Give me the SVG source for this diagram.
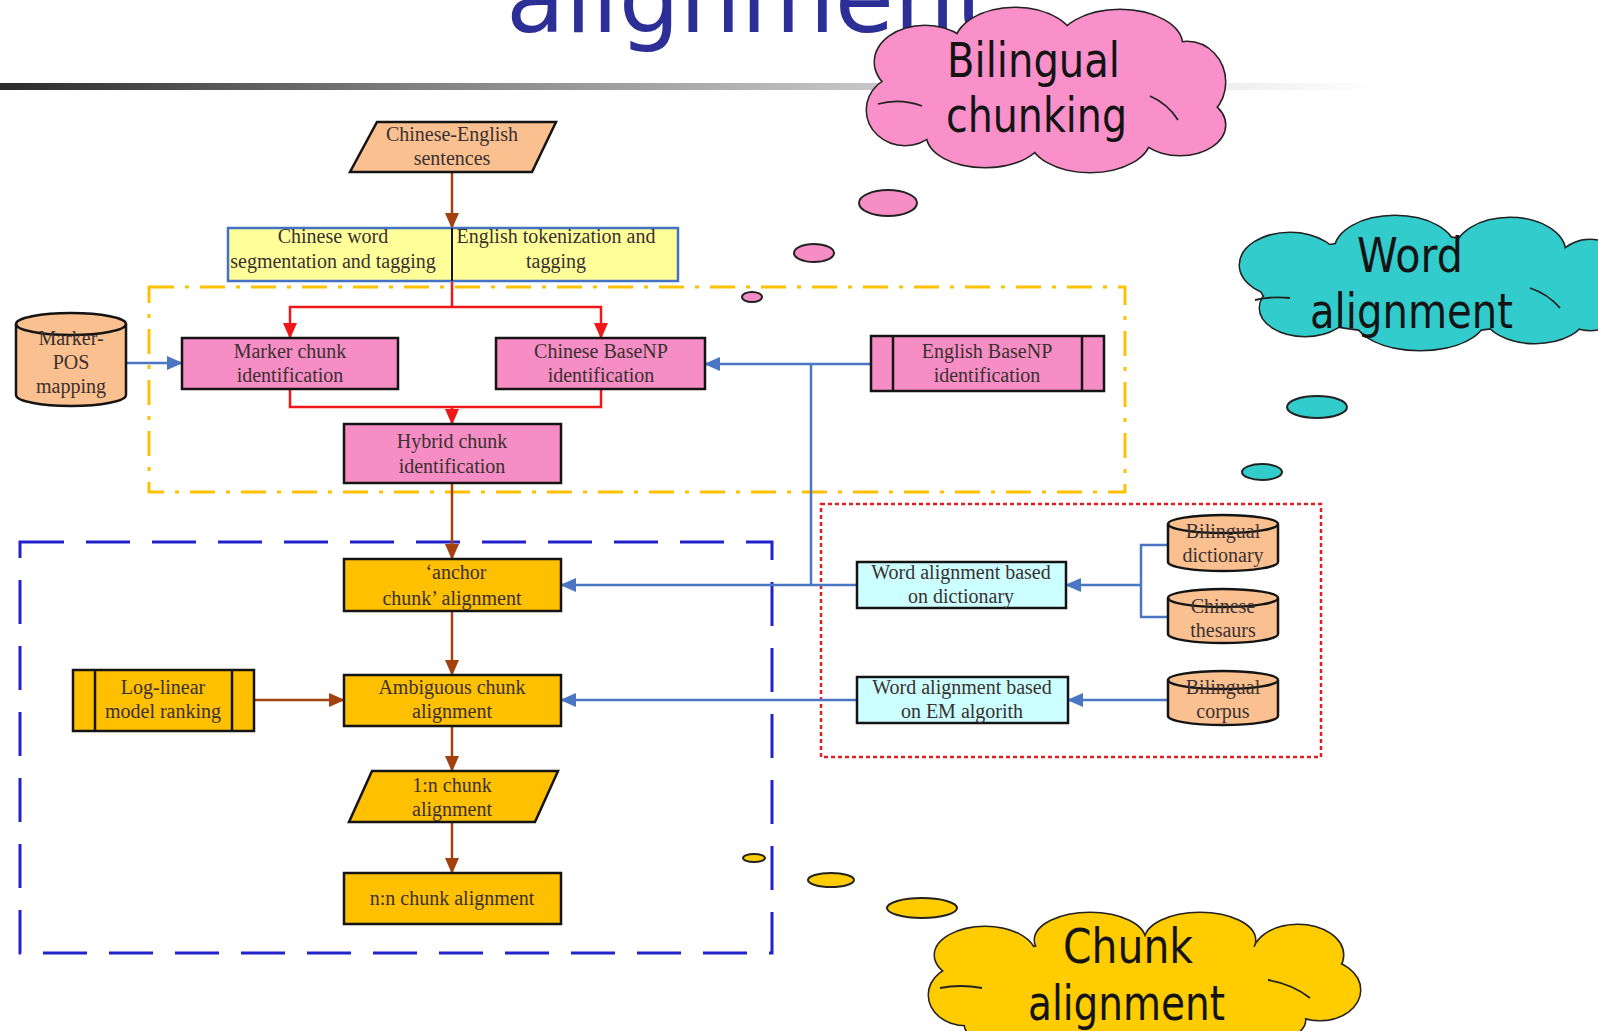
<svg xmlns="http://www.w3.org/2000/svg" width="1598" height="1031" viewBox="0 0 1598 1031">
<style>
.t{font-family:"Liberation Serif","Times New Roman",serif;font-size:20px;fill:#3a3030;text-anchor:middle}
.ct{font-family:"DejaVu Sans","Liberation Sans",sans-serif;font-size:48px;fill:#141414}
.box{stroke:#141414;stroke-width:2.5}
.peach{fill:#FAC090}
.pink{fill:#F68DC5}
.gold{fill:#FFC000}
.cyan{fill:#CCFFFF}
.brown{fill:none;stroke:#A3420F;stroke-width:2.5}
.red{fill:none;stroke:#EE1818;stroke-width:2.5}
.blue{fill:none;stroke:#4A76C4;stroke-width:2.5}
.bubble{stroke:#222;stroke-width:2}
.crease{fill:none;stroke:#222;stroke-width:1.8}
</style>
<defs>
<linearGradient id="barGrad" x1="0" y1="0" x2="1" y2="0">
<stop offset="0" stop-color="#2a2a2a"/>
<stop offset="0.3" stop-color="#808080"/>
<stop offset="0.62" stop-color="#c4c4c4"/>
<stop offset="1" stop-color="#ffffff"/>
</linearGradient>
<marker id="arrBrown" viewBox="0 0 16 14" refX="15" refY="7" markerWidth="16" markerHeight="14" markerUnits="userSpaceOnUse" orient="auto"><path d="M0,0 L16,7 L0,14 z" fill="#A3420F"/></marker>
<marker id="arrRed" viewBox="0 0 16 14" refX="15" refY="7" markerWidth="16" markerHeight="14" markerUnits="userSpaceOnUse" orient="auto"><path d="M0,0 L16,7 L0,14 z" fill="#EE1818"/></marker>
<marker id="arrBlue" viewBox="0 0 16 14" refX="15" refY="7" markerWidth="16" markerHeight="14" markerUnits="userSpaceOnUse" orient="auto"><path d="M0,0 L16,7 L0,14 z" fill="#4A76C4"/></marker>
<g id="pinkShape">
<ellipse cx="925" cy="62" rx="50" ry="36"/><ellipse cx="1015" cy="45" rx="60" ry="37"/><ellipse cx="1120" cy="45" rx="62" ry="35"/>
<ellipse cx="1187" cy="82" rx="38" ry="40"/><ellipse cx="1180" cy="125" rx="45" ry="30"/><ellipse cx="1090" cy="138" rx="60" ry="34"/>
<ellipse cx="985" cy="135" rx="58" ry="32"/><ellipse cx="905" cy="110" rx="38" ry="35"/>
<ellipse cx="1045" cy="92" rx="150" ry="55"/>
</g>
<g id="tealShape">
<ellipse cx="1290" cy="265" rx="50" ry="32"/><ellipse cx="1395" cy="250" rx="60" ry="34"/><ellipse cx="1510" cy="252" rx="55" ry="34"/>
<ellipse cx="1590" cy="285" rx="42" ry="45"/><ellipse cx="1535" cy="315" rx="50" ry="28"/><ellipse cx="1420" cy="318" rx="65" ry="32"/>
<ellipse cx="1305" cy="308" rx="45" ry="28"/>
<ellipse cx="1420" cy="285" rx="160" ry="48"/>
</g>
<g id="goldShape">
<ellipse cx="985" cy="955" rx="50" ry="28"/><ellipse cx="1090" cy="940" rx="55" ry="27"/><ellipse cx="1200" cy="940" rx="55" ry="27"/>
<ellipse cx="1298" cy="955" rx="45" ry="30"/><ellipse cx="1320" cy="990" rx="40" ry="30"/><ellipse cx="966" cy="995" rx="37" ry="30"/>
<ellipse cx="1250" cy="1020" rx="55" ry="25"/><ellipse cx="1130" cy="1028" rx="70" ry="25"/><ellipse cx="1020" cy="1025" rx="55" ry="22"/>
<ellipse cx="1145" cy="985" rx="180" ry="48"/>
</g>
</defs>

<rect x="0" y="0" width="1598" height="1031" fill="#ffffff"/>

<g id="title">
<text x="506" y="32" font-family="DejaVu Sans, Verdana, sans-serif" font-size="96" fill="#2B2F96" textLength="487" lengthAdjust="spacingAndGlyphs">alignment</text>
<rect x="0" y="83" width="1380" height="7" fill="url(#barGrad)"/>
</g>

<g id="containers">
<rect id="group-chunking" x="149" y="287" width="976" height="205" fill="none" stroke="#FFC000" stroke-width="3" stroke-dasharray="25 11 4 11"/>
<rect id="group-chunk-alignment" x="20" y="542" width="752" height="411" fill="none" stroke="#2222CC" stroke-width="3" stroke-dasharray="44 22"/>
<rect id="group-word-alignment" x="821" y="504" width="500" height="253" fill="none" stroke="#E02020" stroke-width="2.5" stroke-dasharray="4 3"/>
</g>

<g id="connectors">
<path class="brown" d="M452 172 V228" marker-end="url(#arrBrown)"/>
<path class="brown" d="M452 483 V559" marker-end="url(#arrBrown)"/>
<path class="brown" d="M452 611 V675" marker-end="url(#arrBrown)"/>
<path class="brown" d="M254 700 H344" marker-end="url(#arrBrown)"/>
<path class="brown" d="M452 726 V771" marker-end="url(#arrBrown)"/>
<path class="brown" d="M452 822 V873" marker-end="url(#arrBrown)"/>
<path class="red" d="M452 281 V307"/>
<path class="red" d="M452 307 H290 V338" marker-end="url(#arrRed)"/>
<path class="red" d="M452 307 H601 V338" marker-end="url(#arrRed)"/>
<path class="red" d="M290 389 V407 H601 V389"/>
<path class="red" d="M452 407 V424" marker-end="url(#arrRed)"/>
<path class="blue" d="M126 363 H182" marker-end="url(#arrBlue)"/>
<path class="blue" d="M871 364 H705" marker-end="url(#arrBlue)"/>
<path class="blue" d="M811 364 V585"/>
<path class="blue" d="M857 585 H561" marker-end="url(#arrBlue)"/>
<path class="blue" d="M857 700 H561" marker-end="url(#arrBlue)"/>
<path class="blue" d="M1168 545 H1141 V617 H1168"/>
<path class="blue" d="M1141 585 H1066" marker-end="url(#arrBlue)"/>
<path class="blue" d="M1168 700 H1068" marker-end="url(#arrBlue)"/>
</g>

<g id="node-sentences">
<polygon class="peach box" points="377,122 556,122 532,172 350,172"/>
<text class="t" x="452" y="141">Chinese-English</text>
<text class="t" x="452" y="165">sentences</text>
</g>

<g id="node-preprocessing">
<rect x="228" y="228" width="450" height="53" fill="#FFFF99" stroke="#4472C4" stroke-width="2.5"/>
<line x1="452" y1="228" x2="452" y2="281" stroke="#141414" stroke-width="2"/>
<text class="t" x="333" y="243">Chinese word</text>
<text class="t" x="333" y="268">segmentation and tagging</text>
<text class="t" x="556" y="243">English tokenization and</text>
<text class="t" x="556" y="268">tagging</text>
</g>

<g id="node-marker-pos">
<path class="peach box" d="M16 324 A55 11 0 0 1 126 324 V395 A55 11 0 0 1 16 395 Z"/>
<path class="box" fill="none" d="M16 324 A55 11 0 0 0 126 324"/>
<text class="t" x="71" y="345">Marker-</text>
<text class="t" x="71" y="369">POS</text>
<text class="t" x="71" y="393">mapping</text>
</g>

<g id="node-marker-chunk">
<rect class="pink box" x="182" y="338" width="216" height="51"/>
<text class="t" x="290" y="358">Marker chunk</text>
<text class="t" x="290" y="382">identification</text>
</g>

<g id="node-chinese-basenp">
<rect class="pink box" x="496" y="338" width="209" height="51"/>
<text class="t" x="601" y="358">Chinese BaseNP</text>
<text class="t" x="601" y="382">identification</text>
</g>

<g id="node-english-basenp">
<rect class="pink box" x="871" y="336" width="233" height="55"/>
<line class="box" x1="893" y1="336" x2="893" y2="391"/>
<line class="box" x1="1082" y1="336" x2="1082" y2="391"/>
<text class="t" x="987" y="358">English BaseNP</text>
<text class="t" x="987" y="382">identification</text>
</g>

<g id="node-hybrid-chunk">
<rect class="pink box" x="344" y="424" width="217" height="59"/>
<text class="t" x="452" y="448">Hybrid chunk</text>
<text class="t" x="452" y="473">identification</text>
</g>

<g id="node-anchor-chunk">
<rect class="gold box" x="344" y="559" width="217" height="52"/>
<text class="t" x="456" y="579">‘anchor</text>
<text class="t" x="452" y="605">chunk’ alignment</text>
</g>

<g id="node-loglinear">
<rect class="gold box" x="73" y="670" width="181" height="61"/>
<line class="box" x1="95" y1="670" x2="95" y2="731"/>
<line class="box" x1="232" y1="670" x2="232" y2="731"/>
<text class="t" x="163" y="694">Log-linear</text>
<text class="t" x="163" y="718">model ranking</text>
</g>

<g id="node-ambiguous">
<rect class="gold box" x="344" y="675" width="217" height="51"/>
<text class="t" x="452" y="694">Ambiguous chunk</text>
<text class="t" x="452" y="718">alignment</text>
</g>

<g id="node-1n">
<polygon class="gold box" points="372,771 558,771 535,822 349,822"/>
<text class="t" x="452" y="792">1:n chunk</text>
<text class="t" x="452" y="816">alignment</text>
</g>

<g id="node-nn">
<rect class="gold box" x="344" y="873" width="217" height="51"/>
<text class="t" x="452" y="905">n:n chunk alignment</text>
</g>

<g id="node-wa-dictionary">
<rect class="cyan box" x="857" y="562" width="209" height="46"/>
<text class="t" x="961" y="579">Word alignment based</text>
<text class="t" x="961" y="603">on dictionary</text>
</g>

<g id="node-wa-em">
<rect class="cyan box" x="857" y="677" width="211" height="46"/>
<text class="t" x="962" y="694">Word alignment based</text>
<text class="t" x="962" y="718">on EM algorith</text>
</g>

<g id="node-bilingual-dictionary">
<path class="peach box" d="M1168 524 A55 9 0 0 1 1278 524 V562 A55 9 0 0 1 1168 562 Z"/>
<path class="box" fill="none" d="M1168 524 A55 9 0 0 0 1278 524"/>
<text class="t" x="1223" y="538">Bilingual</text>
<text class="t" x="1223" y="562">dictionary</text>
</g>

<g id="node-chinese-thesaurus">
<path class="peach box" d="M1168 598 A55 9 0 0 1 1278 598 V634 A55 9 0 0 1 1168 634 Z"/>
<path class="box" fill="none" d="M1168 598 A55 9 0 0 0 1278 598"/>
<text class="t" x="1223" y="613">Chinese</text>
<text class="t" x="1223" y="637">thesaurs</text>
</g>

<g id="node-bilingual-corpus">
<path class="peach box" d="M1168 680 A55 9 0 0 1 1278 680 V716 A55 9 0 0 1 1168 716 Z"/>
<path class="box" fill="none" d="M1168 680 A55 9 0 0 0 1278 680"/>
<text class="t" x="1223" y="694">Bilingual</text>
<text class="t" x="1223" y="718">corpus</text>
</g>

<g id="callout-bilingual-chunking">
<ellipse class="bubble" cx="752" cy="297" rx="10" ry="5" fill="#F68DC5"/>
<ellipse class="bubble" cx="814" cy="253" rx="20" ry="9" fill="#F68DC5"/>
<ellipse class="bubble" cx="888" cy="203" rx="29" ry="13" fill="#F68DC5"/>
<use href="#pinkShape" fill="#F990CA" stroke="#222" stroke-width="3"/>
<use href="#pinkShape" fill="#F990CA"/>
<path class="crease" d="M878 104 Q900 98 922 106"/>
<path class="crease" d="M1150 96 Q1168 104 1178 120"/>
<text class="ct" x="947" y="77" textLength="173" lengthAdjust="spacingAndGlyphs">Bilingual</text>
<text class="ct" x="946" y="132" textLength="181" lengthAdjust="spacingAndGlyphs">chunking</text>
</g>

<g id="callout-word-alignment">
<ellipse class="bubble" cx="1262" cy="472" rx="20" ry="8" fill="#33CCCC"/>
<ellipse class="bubble" cx="1317" cy="407" rx="30" ry="11" fill="#33CCCC"/>
<use href="#tealShape" fill="#33CCCC" stroke="#222" stroke-width="3"/>
<use href="#tealShape" fill="#33CCCC"/>
<path class="crease" d="M1255 300 Q1272 296 1290 298"/>
<path class="crease" d="M1530 288 Q1548 294 1560 308"/>
<text class="ct" x="1357" y="272" textLength="106" lengthAdjust="spacingAndGlyphs">Word</text>
<text class="ct" x="1310" y="328" textLength="203" lengthAdjust="spacingAndGlyphs">alignment</text>
</g>

<g id="callout-chunk-alignment">
<ellipse class="bubble" cx="754" cy="858" rx="11" ry="4" fill="#FFCC00"/>
<ellipse class="bubble" cx="831" cy="880" rx="23" ry="7" fill="#FFCC00"/>
<ellipse class="bubble" cx="922" cy="908" rx="35" ry="10" fill="#FFCC00"/>
<use href="#goldShape" fill="#FFCC00" stroke="#222" stroke-width="3"/>
<use href="#goldShape" fill="#FFCC00"/>
<path class="crease" d="M940 988 Q960 984 982 988"/>
<path class="crease" d="M1268 980 Q1292 984 1310 998"/>
<text class="ct" x="1063" y="963" textLength="130" lengthAdjust="spacingAndGlyphs">Chunk</text>
<text class="ct" x="1028" y="1020" textLength="197" lengthAdjust="spacingAndGlyphs">alignment</text>
</g>
</svg>
